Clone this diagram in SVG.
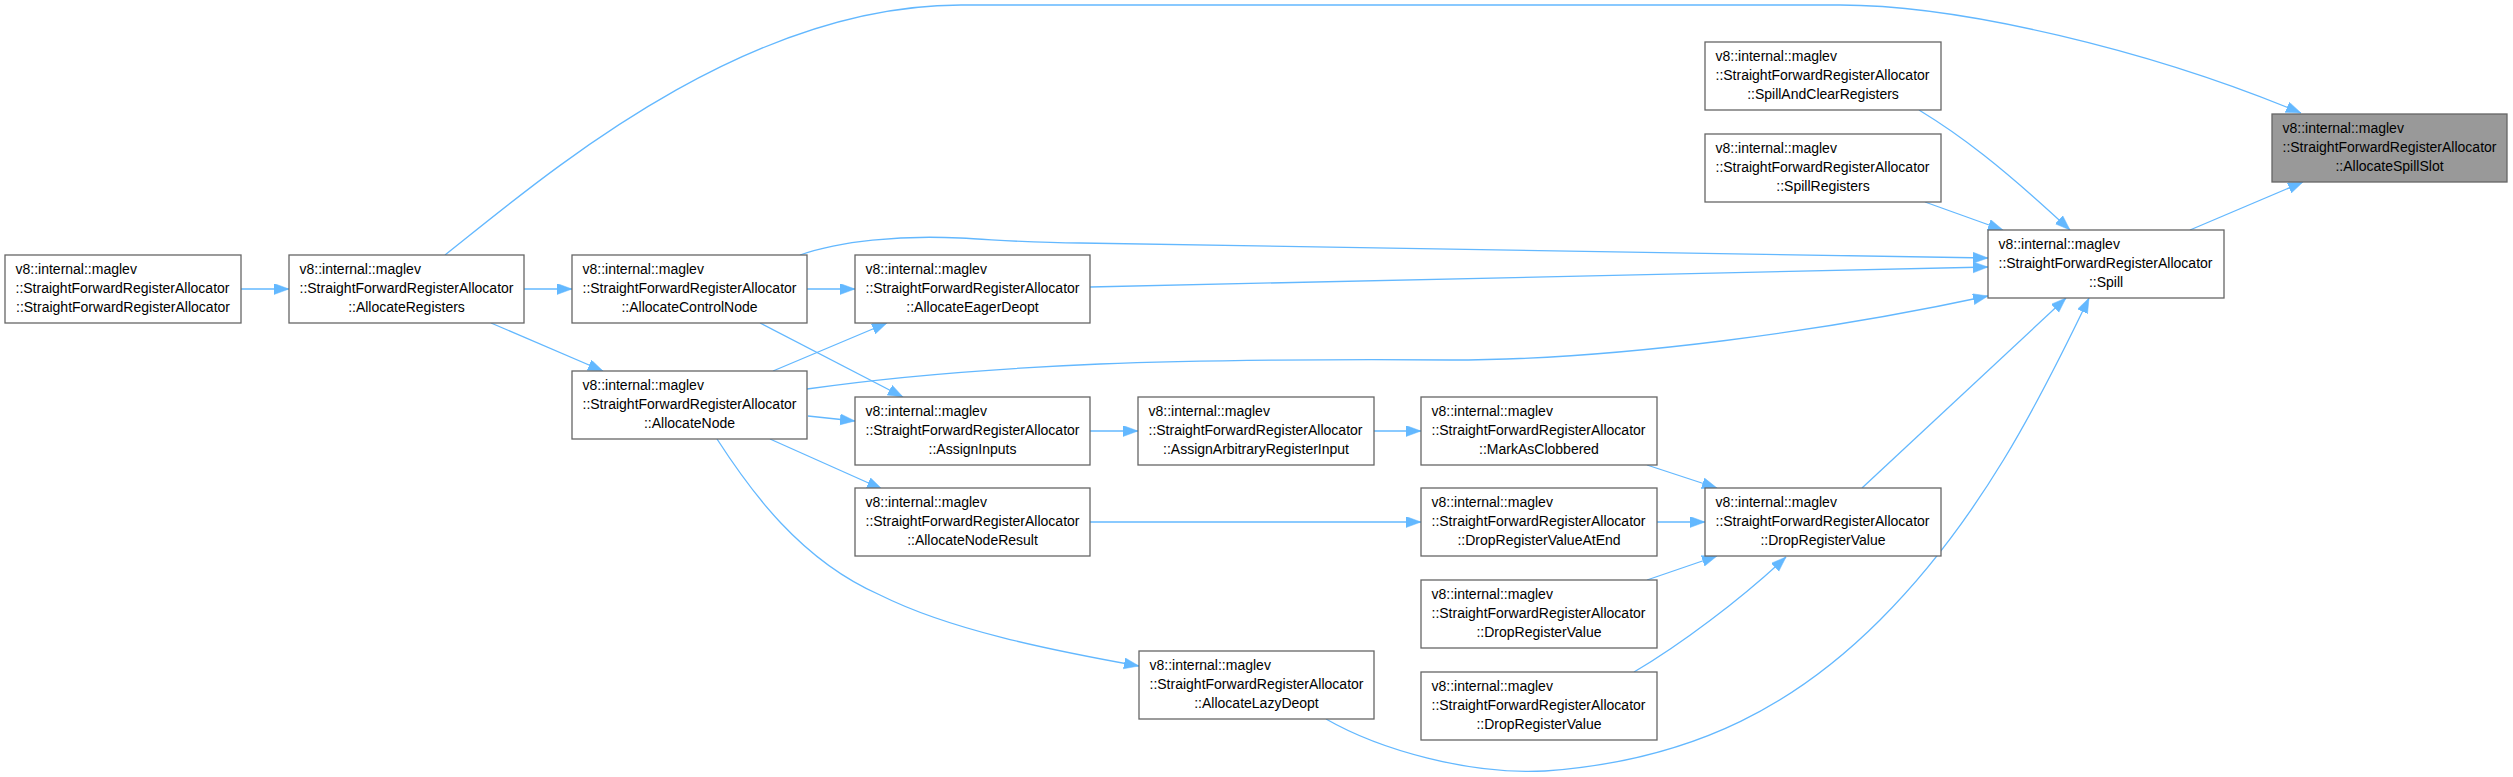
<svg xmlns="http://www.w3.org/2000/svg" width="2513" height="777" viewBox="0 0 2513 777">
<style>
.node rect{fill:#ffffff;stroke:#666666;stroke-width:1.3}
.node.hl rect{fill:#999999}
.node text{font-family:"Liberation Sans",Arial,sans-serif;font-size:14px;fill:#000000}
.node text.c{text-anchor:middle}
.edges path{fill:none;stroke:#63b8ff;stroke-width:1.3;marker-end:url(#ah)}
</style>
<defs>
<marker id="ah" markerWidth="16" markerHeight="12" refX="15" refY="5.5" orient="auto" markerUnits="userSpaceOnUse">
<path d="M0,0 L15,5.5 L0,11 z" fill="#63b8ff" stroke="#63b8ff" stroke-width="0.5"/>
</marker>
</defs>
<rect x="0" y="0" width="2513" height="777" fill="#ffffff"/>
<g id="edges" class="edges">
<path d="M241,289 L289,289"/>
<path d="M524,289 L572,289"/>
<path d="M491,323 L603,371"/>
<path d="M445,255 C540,180 740,5 961,5 L1840,5 C1960,5 2150,50 2301,113"/>
<path d="M807,289 L855,289"/>
<path d="M760,323 L903,397"/>
<path d="M800,255 C840,241 900,235 960,238 C1000,240 1030,243 1080,243 L1988,258"/>
<path d="M1090,287 L1988,267"/>
<path d="M773,371 L887,323"/>
<path d="M807,389 C870,380 960,370 1100,364 C1200,360 1350,359 1450,360 C1620,360 1830,330 1988,296"/>
<path d="M808,416 L855,421"/>
<path d="M770,439 L882,489"/>
<path d="M717,439 C750,490 800,560 880,595 C950,630 1050,650 1139,666"/>
<path d="M1090,431 L1138,431"/>
<path d="M1374,431 L1421,431"/>
<path d="M1090,522 L1421,522"/>
<path d="M1647,465 L1717,488"/>
<path d="M1657,522 L1705,522"/>
<path d="M1647,580 L1717,556"/>
<path d="M1634,672 C1680,645 1740,600 1786,557"/>
<path d="M1862,488 L2066,298"/>
<path d="M1326,719 C1380,750 1470,775 1545,771 C1700,760 1800,700 1880,620 C1980,520 2040,400 2089,298"/>
<path d="M1919,110 C1960,135 2000,165 2070,230"/>
<path d="M1925,202 L2003,230"/>
<path d="M2190,230 L2303,182"/>
</g>
<g id="n1" class="node"><rect x="5" y="255" width="236" height="68"/><text x="15.5" y="273.5">v8::internal::maglev</text><text x="15.5" y="292.5">::StraightForwardRegisterAllocator</text><text class="c" x="123" y="311.5">::StraightForwardRegisterAllocator</text></g>
<g id="n2" class="node"><rect x="289" y="255" width="235" height="68"/><text x="299.5" y="273.5">v8::internal::maglev</text><text x="299.5" y="292.5">::StraightForwardRegisterAllocator</text><text class="c" x="406.5" y="311.5">::AllocateRegisters</text></g>
<g id="n3" class="node"><rect x="572" y="255" width="235" height="68"/><text x="582.5" y="273.5">v8::internal::maglev</text><text x="582.5" y="292.5">::StraightForwardRegisterAllocator</text><text class="c" x="689.5" y="311.5">::AllocateControlNode</text></g>
<g id="n4" class="node"><rect x="855" y="255" width="235" height="68"/><text x="865.5" y="273.5">v8::internal::maglev</text><text x="865.5" y="292.5">::StraightForwardRegisterAllocator</text><text class="c" x="972.5" y="311.5">::AllocateEagerDeopt</text></g>
<g id="n5" class="node"><rect x="572" y="371" width="235" height="68"/><text x="582.5" y="389.5">v8::internal::maglev</text><text x="582.5" y="408.5">::StraightForwardRegisterAllocator</text><text class="c" x="689.5" y="427.5">::AllocateNode</text></g>
<g id="n6" class="node"><rect x="855" y="397" width="235" height="68"/><text x="865.5" y="415.5">v8::internal::maglev</text><text x="865.5" y="434.5">::StraightForwardRegisterAllocator</text><text class="c" x="972.5" y="453.5">::AssignInputs</text></g>
<g id="n7" class="node"><rect x="855" y="488" width="235" height="68"/><text x="865.5" y="506.5">v8::internal::maglev</text><text x="865.5" y="525.5">::StraightForwardRegisterAllocator</text><text class="c" x="972.5" y="544.5">::AllocateNodeResult</text></g>
<g id="n8" class="node"><rect x="1138" y="397" width="236" height="68"/><text x="1148.5" y="415.5">v8::internal::maglev</text><text x="1148.5" y="434.5">::StraightForwardRegisterAllocator</text><text class="c" x="1256" y="453.5">::AssignArbitraryRegisterInput</text></g>
<g id="n9" class="node"><rect x="1139" y="651" width="235" height="68"/><text x="1149.5" y="669.5">v8::internal::maglev</text><text x="1149.5" y="688.5">::StraightForwardRegisterAllocator</text><text class="c" x="1256.5" y="707.5">::AllocateLazyDeopt</text></g>
<g id="n10" class="node"><rect x="1421" y="397" width="236" height="68"/><text x="1431.5" y="415.5">v8::internal::maglev</text><text x="1431.5" y="434.5">::StraightForwardRegisterAllocator</text><text class="c" x="1539" y="453.5">::MarkAsClobbered</text></g>
<g id="n11" class="node"><rect x="1421" y="488" width="236" height="68"/><text x="1431.5" y="506.5">v8::internal::maglev</text><text x="1431.5" y="525.5">::StraightForwardRegisterAllocator</text><text class="c" x="1539" y="544.5">::DropRegisterValueAtEnd</text></g>
<g id="n12" class="node"><rect x="1421" y="580" width="236" height="68"/><text x="1431.5" y="598.5">v8::internal::maglev</text><text x="1431.5" y="617.5">::StraightForwardRegisterAllocator</text><text class="c" x="1539" y="636.5">::DropRegisterValue</text></g>
<g id="n13" class="node"><rect x="1421" y="672" width="236" height="68"/><text x="1431.5" y="690.5">v8::internal::maglev</text><text x="1431.5" y="709.5">::StraightForwardRegisterAllocator</text><text class="c" x="1539" y="728.5">::DropRegisterValue</text></g>
<g id="n14" class="node"><rect x="1705" y="488" width="236" height="68"/><text x="1715.5" y="506.5">v8::internal::maglev</text><text x="1715.5" y="525.5">::StraightForwardRegisterAllocator</text><text class="c" x="1823" y="544.5">::DropRegisterValue</text></g>
<g id="n15" class="node"><rect x="1705" y="42" width="236" height="68"/><text x="1715.5" y="60.5">v8::internal::maglev</text><text x="1715.5" y="79.5">::StraightForwardRegisterAllocator</text><text class="c" x="1823" y="98.5">::SpillAndClearRegisters</text></g>
<g id="n16" class="node"><rect x="1705" y="134" width="236" height="68"/><text x="1715.5" y="152.5">v8::internal::maglev</text><text x="1715.5" y="171.5">::StraightForwardRegisterAllocator</text><text class="c" x="1823" y="190.5">::SpillRegisters</text></g>
<g id="n17" class="node"><rect x="1988" y="230" width="236" height="68"/><text x="1998.5" y="248.5">v8::internal::maglev</text><text x="1998.5" y="267.5">::StraightForwardRegisterAllocator</text><text class="c" x="2106" y="286.5">::Spill</text></g>
<g id="n18" class="node hl"><rect x="2272" y="114" width="235" height="68"/><text x="2282.5" y="132.5">v8::internal::maglev</text><text x="2282.5" y="151.5">::StraightForwardRegisterAllocator</text><text class="c" x="2389.5" y="170.5">::AllocateSpillSlot</text></g>
</svg>
